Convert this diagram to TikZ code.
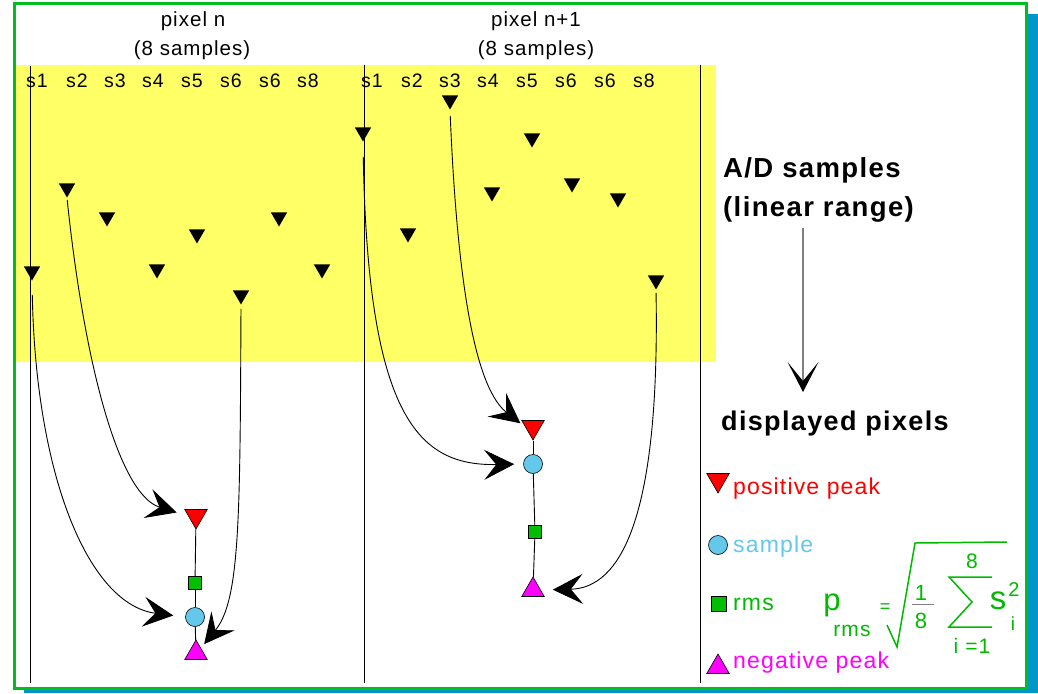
\documentclass[tikz,border=0pt]{standalone}
\usepackage{fontspec}
\setmainfont{Liberation Sans}
\newfontfamily\spc[LetterSpace=5]{Liberation Sans}
\usetikzlibrary{arrows.meta,shapes.geometric}
\definecolor{frameg}{RGB}{0,190,30}
\definecolor{shadowb}{RGB}{0,150,200}
\definecolor{ylw}{RGB}{255,255,102}
\definecolor{lblue}{RGB}{100,200,235}
\definecolor{sqg}{RGB}{0,190,0}
\definecolor{txtg}{RGB}{0,185,0}
\definecolor{mag}{RGB}{255,0,255}
\newcommand{\fs}[1]{\fontsize{#1}{#1}\selectfont}
\begin{document}
\begin{tikzpicture}[x=1pt,y=-1pt,
  txt/.style={inner sep=0pt,anchor=base},
  txtw/.style={inner sep=0pt,anchor=base west},
  samp/.style={regular polygon,regular polygon sides=3,shape border rotate=180,fill=black,inner sep=0pt,minimum size=19pt},
  peakp/.style={regular polygon,regular polygon sides=3,shape border rotate=180,fill=red,draw=black,line width=0.6pt,inner sep=0pt,minimum size=26pt},
  peakn/.style={regular polygon,regular polygon sides=3,fill=mag,draw=black,line width=0.6pt,inner sep=0pt,minimum size=26pt},
  smpc/.style={circle,fill=lblue,draw=black,line width=0.6pt,inner sep=0pt,minimum size=19pt},
  rmsq/.style={rectangle,fill=sqg,draw=black,line width=0.6pt,inner sep=0pt,minimum size=13pt},
  bigarr/.style={line width=0.9pt,-{Stealth[length=30pt,width=30pt,inset=12pt]}},
  conn/.style={line width=0.9pt}
]
\useasboundingbox (0,0) rectangle (1038,693);
% frame with shadow
\fill[shadowb] (24,14) rectangle (1038,693);
\filldraw[fill=white,draw=frameg,line width=3pt] (14,4) rectangle (1026,688);
\fill[ylw] (15.5,65) rectangle (716,362);
% vertical lines
\coordinate (v1t) at (30,66); \coordinate (v1b) at (30,683);
\coordinate (v2t) at (364,65); \coordinate (v2b) at (364,683);
\coordinate (v3t) at (700,65); \coordinate (v3b) at (700,683);
\draw[conn] (v1t) -- (v1b);
\draw[conn] (v2t) -- (v2b);
\draw[conn] (v3t) -- (v3b);
% headers
\node[txt,font=\spc\fs{20.5}] (h1) at (193,27) {pixel n};
\node[txt,font=\spc\fs{20.5}] (h2) at (192,56) {(8 samples)};
\node[txt,font=\spc\fs{20.5}] (h3) at (536,27) {pixel n+1};
\node[txt,font=\spc\fs{20.5}] (h4) at (536,56) {(8 samples)};
% sample labels
\foreach \x/\t [count=\i] in {37/s1,77/s2,115/s3,153/s4,192/s5,231/s6,270/s6,308/s8}
  \node[txt,font=\spc\fs{19.5}] (la\i) at (\x,87) {\t};
\foreach \x/\t [count=\i] in {372/s1,412/s2,450/s3,488/s4,527/s5,566/s6,605/s6,644/s8}
  \node[txt,font=\spc\fs{19.5}] (lb\i) at (\x,87) {\t};
% sample triangles
\node[samp] (a1) at (32,271) {};
\node[samp] (a2) at (67,188) {};
\node[samp] (a3) at (107,217) {};
\node[samp] (a4) at (157,269) {};
\node[samp] (a5) at (197,234) {};
\node[samp] (a6) at (241,295) {};
\node[samp] (a7) at (279,217) {};
\node[samp] (a8) at (322,269) {};
\node[samp] (b1) at (363,132) {};
\node[samp] (b2) at (408,233) {};
\node[samp] (b3) at (450,100) {};
\node[samp] (b4) at (492,192) {};
\node[samp] (b5) at (532,138) {};
\node[samp] (b6) at (572,183) {};
\node[samp] (b7) at (618,198) {};
\node[samp] (b8) at (656,280) {};
% displayed pixels
\node[peakp] (rp1) at (196,516) {};
\node[rmsq] (sq1) at (195,583) {};
\node[smpc] (ci1) at (195,617) {};
\node[peakn] (np1) at (196,653) {};
\draw[conn] (rp1) -- (sq1);
\draw[conn] (sq1) -- (ci1);
\draw[conn] (ci1) -- (np1);
\node[peakp] (rp2) at (533,427) {};
\node[smpc] (ci2) at (533,464) {};
\node[rmsq] (sq2) at (535,532) {};
\node[peakn] (np2) at (533,590) {};
\draw[conn] (rp2) -- (ci2);
\draw[conn] (ci2) -- (sq2);
\draw[conn] (sq2) -- (np2);
% mapping arrows
\draw[bigarr,shorten <=2pt,shorten >=12pt] (a2.south) .. controls (85,370) and (120,495) .. (rp1.west);
\draw[bigarr,shorten <=14pt,shorten >=12pt] (a1.south) .. controls (36,480) and (90,605) .. (ci1.west);
\draw[bigarr,shorten <=4pt,shorten >=5pt] (a6.south) .. controls (240,520) and (240,600) .. (np1.north east);
\draw[bigarr,shorten <=6pt,shorten >=6pt] (b3.south) .. controls (458,300) and (478,390) .. (rp2.west);
\draw[bigarr,shorten <=15pt,shorten >=9pt] (b1.south) .. controls (368,420) and (420,466) .. (ci2.west);
\draw[bigarr,shorten <=3pt,shorten >=12pt] (b8.south) .. controls (660,520) and (620,588) .. (np2.east);
% right side labels
\node[txtw,font=\spc\bfseries\fs{27.5}] (ad1) at (723,177) {A/D samples};
\node[txtw,font=\spc\bfseries\fs{27.5}] (ad2) at (723,216) {(linear range)};
\node[txtw,font=\spc\bfseries\fs{27}] (dp) at (721,430) {displayed pixels};
\coordinate (g1) at (803,228);
\coordinate (g2) at (803,392);
\draw[gray,line width=1.3pt,-{Stealth[color=black,length=30pt,width=31pt,inset=19pt]}] (g1) -- (g2);
% legend
\node[peakp,minimum size=26pt] (lrp) at (718,480) {};
\node[smpc] (lci) at (718,545) {};
\node[rmsq,minimum size=15pt] (lsq) at (719,604) {};
\node[peakn] (lnp) at (718,667) {};
\node[txtw,font=\spc\fs{23},text=red] (tp) at (733,494) {positive peak};
\node[txtw,font=\spc\fs{23},text=lblue] (ts) at (733,552) {sample};
\node[txtw,font=\spc\fs{23},text=txtg] (tr) at (733,610) {rms};
\node[txtw,font=\spc\fs{23},text=mag] (tn) at (733,668) {negative peak};
% formula
\begin{scope}[txtg]
\node[txt,font=\fs{31},text=txtg] (fp) at (832,610) {p};
\node[txt,font=\spc\fs{21},text=txtg] (frms) at (852,636) {rms};
\node[txt,font=\fs{18},text=txtg] (feq) at (885,612) {=};
\draw[line width=1.5pt] (887,625) -- (897,647) -- (915,543) -- (1007,542);
\node[txt,font=\fs{22},text=txtg] (f1) at (921,600) {1};
\draw[gray,line width=0.9pt] (912,604) -- (934,604);
\node[txt,font=\fs{22},text=txtg] (f8) at (921,628) {8};
\draw[line width=1.5pt] (992,577) -- (949,577) -- (972,602) -- (949,627) -- (992,627);
\node[txt,font=\fs{21},text=txtg] (fu8) at (972,568) {8};
\node[txt,font=\spc\fs{21},text=txtg] (fi1) at (972,653) {i =1};
\node[txt,font=\fs{33},text=txtg] (fs) at (998,609) {s};
\node[txt,font=\fs{20},text=txtg] (f2) at (1014,596) {2};
\node[txt,font=\fs{19},text=txtg] (fi) at (1013,630) {i};
\end{scope}
\end{tikzpicture}
\end{document}
